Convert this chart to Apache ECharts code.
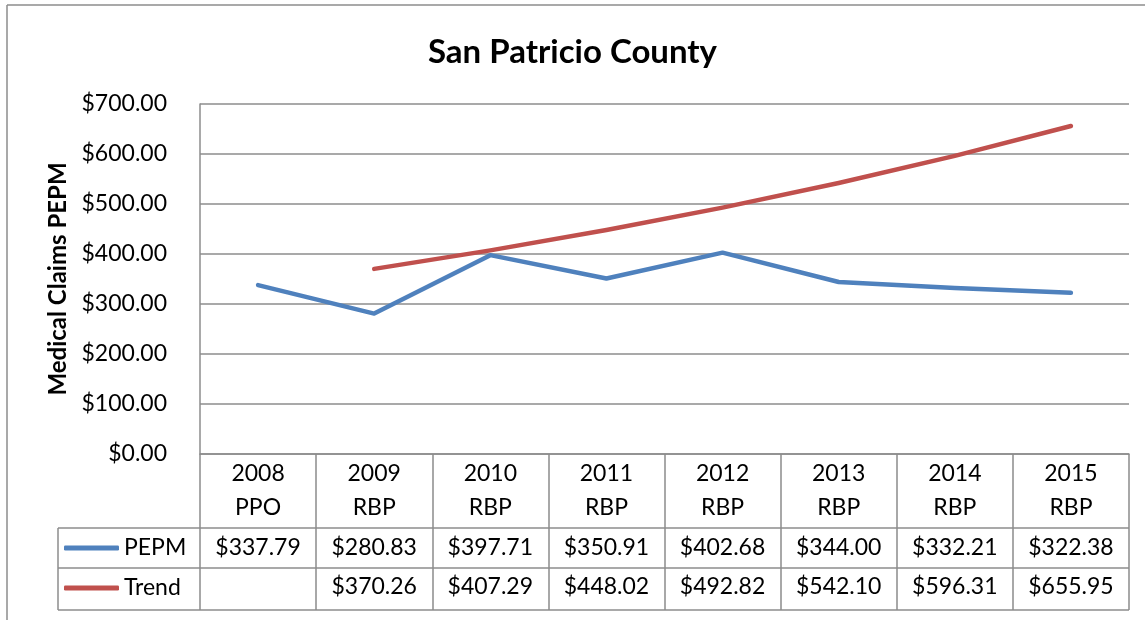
<!DOCTYPE html>
<html>
<head>
<meta charset="utf-8">
<script src="https://cdn.jsdelivr.net/npm/echarts@6/dist/echarts.min.js"></script>
<style>
  html, body { margin: 0; padding: 0; background: #fff; }
  #chart { width: 1145px; height: 620px; }
</style>
</head>
<body>
<div id="chart"></div>
<script>
// data
const years = ['2008', '2009', '2010', '2011', '2012', '2013', '2014', '2015']
const plans = ['PPO', 'RBP', 'RBP', 'RBP', 'RBP', 'RBP', 'RBP', 'RBP']
const pepm = [337.79, 280.83, 397.71, 350.91, 402.68, 344.00, 332.21, 322.38]
const trend = [null, 370.26, 407.29, 448.02, 492.82, 542.10, 596.31, 655.95]

const money = v => (v === null || v === undefined) ? '' : '$' + Number(v).toFixed(2)

const FONT = 'Lato'
const GRID = '#8c8c8c'
const BLUE = '#4f81bd'
const RED = '#c0504d'

// layout
const gridLeft = 200, gridRight = 1129, gridTop = 104, gridBottom = 454
const row1 = 528, row2 = 568, row3 = 610, legendLeft = 58

const chart = echarts.init(document.getElementById('chart'))

const tableLine = (x1, y1, x2, y2) => ({
    type: 'line',
    shape: { x1: x1, y1: y1, x2: x2, y2: y2 },
    style: { stroke: GRID, lineWidth: 1.5 },
    silent: true
})

const option = {
    animation: false,
    textStyle: { fontFamily: FONT },
    title: {
        text: 'San Patricio County',
        left: 'center',
        top: 31,
        textStyle: { fontFamily: FONT, fontWeight: 'bold', fontSize: 33, color: '#000' }
    },
    grid: {
        left: gridLeft,
        right: 1145 - gridRight,
        top: gridTop,
        bottom: 620 - gridBottom
    },
    legend: {
        orient: 'vertical',
        left: 64,
        top: 534,
        padding: 0,
        itemGap: 12,
        itemWidth: 55,
        itemHeight: 5,
        icon: 'roundRect',
        data: ['PEPM', 'Trend'],
        textStyle: { fontFamily: FONT, fontSize: 23, color: '#000', lineHeight: 28 }
    },
    xAxis: [
        {
            type: 'category',
            data: years.map((y, i) => y + '\n' + plans[i]),
            position: 'bottom',
            axisLine: { lineStyle: { color: GRID, width: 1.5 } },
            axisTick: { show: true, interval: 0, length: row3 - gridBottom, lineStyle: { color: GRID, width: 1.5 } },
            axisLabel: { interval: 0, fontFamily: FONT, fontSize: 23, lineHeight: 34, margin: 3, color: '#000' }
        },
        {
            type: 'category',
            data: pepm.map(money),
            position: 'bottom',
            offset: row1 - gridBottom,
            axisLine: { show: false },
            axisTick: { show: false },
            axisLabel: { interval: 0, fontFamily: FONT, fontSize: 23, lineHeight: 28, margin: 6, color: '#000' }
        },
        {
            type: 'category',
            data: trend.map(money),
            position: 'bottom',
            offset: row2 - gridBottom,
            axisLine: { show: false },
            axisTick: { show: false },
            axisLabel: { interval: 0, fontFamily: FONT, fontSize: 23, lineHeight: 28, margin: 5, color: '#000' }
        }
    ],
    yAxis: {
        type: 'value',
        min: 0,
        max: 700,
        interval: 100,
        name: 'Medical Claims PEPM',
        nameLocation: 'middle',
        nameRotate: 90,
        nameGap: 130,
        nameTextStyle: { fontFamily: FONT, fontWeight: 'bold', fontSize: 24, color: '#000' },
        axisLine: { show: true, lineStyle: { color: GRID, width: 1.5 } },
        axisTick: { show: false },
        axisLabel: { formatter: v => money(v), fontFamily: FONT, fontSize: 23, margin: 33, color: '#000' },
        splitLine: { lineStyle: { color: GRID, width: 1.5 } }
    },
    series: [
        {
            name: 'PEPM',
            type: 'line',
            data: pepm,
            showSymbol: false,
            color: BLUE,
            lineStyle: { width: 4.5, color: BLUE, cap: 'round', join: 'round' }
        },
        {
            name: 'Trend',
            type: 'line',
            data: trend,
            showSymbol: false,
            color: RED,
            lineStyle: { width: 4.5, color: RED, cap: 'round', join: 'round' }
        }
    ],
    graphic: [
        // outer chart border
        tableLine(7, 5, 1200, 5),
        tableLine(7, 5, 7, 700),
        // data table frame
        tableLine(legendLeft, row1, gridRight, row1),
        tableLine(legendLeft, row2, gridRight, row2),
        tableLine(legendLeft, row3, gridRight, row3),
        tableLine(legendLeft, row1, legendLeft, row3)
    ]
}

chart.setOption(option)
</script>
</body>
</html>
